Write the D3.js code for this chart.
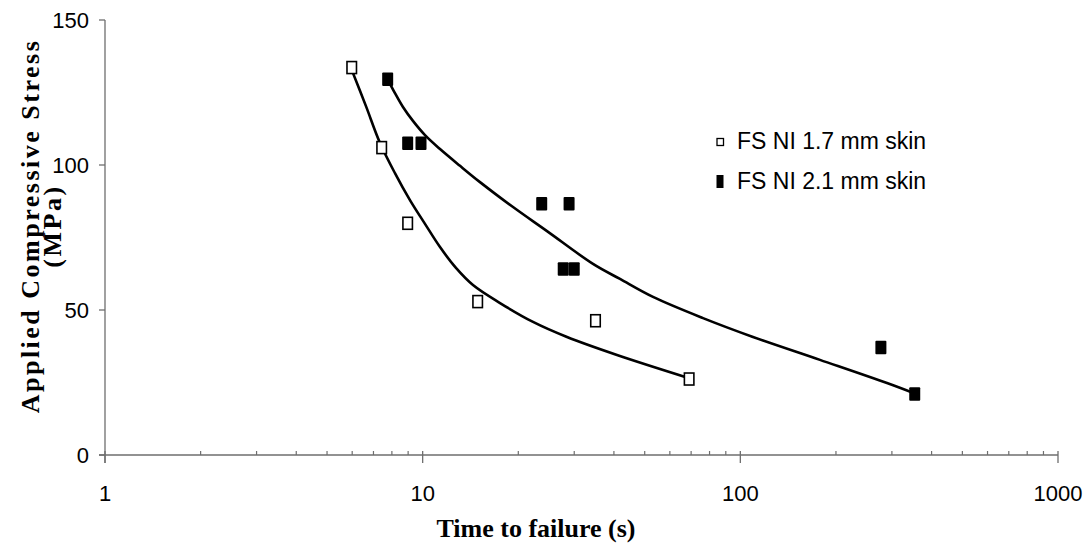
<!DOCTYPE html>
<html>
<head>
<meta charset="utf-8">
<script src="https://cdn.jsdelivr.net/npm/d3@7"></script>
<style>
  html, body { margin: 0; padding: 0; background: #fff; }
  svg { display: block; }
  .tick-label { font-family: "Liberation Sans", Arial, sans-serif; font-size: 22px; fill: #000; }
  .legend-label { font-family: "Liberation Sans", Arial, sans-serif; font-size: 23px; fill: #000; }
  .axis-title { font-family: "Liberation Serif", "Times New Roman", serif; font-weight: bold; font-size: 26px; fill: #000; }
</style>
</head>
<body>
<svg id="chart" width="1085" height="547"></svg>
<script>
// measured points
const thinTime = [5.98, 7.43, 8.97, 14.9, 35.0, 69.0];
const thinStress = [133.6, 106.0, 79.9, 52.9, 46.3, 26.2];
const thickTime = [7.76, 8.97, 9.88, 23.7, 28.9, 27.7, 30.0, 277, 354];
const thickStress = [129.6, 107.5, 107.5, 86.6, 86.6, 64.1, 64.1, 37.1, 21.0];

// trend curves as drawn
const thinFitTime = [5.95, 6.63, 7.34, 8.18, 9.12, 10.17, 11.34, 12.73, 14.40, 17.52, 22.25, 28.47, 40.9, 69.0];
const thinFitStress = [133.4, 120.3, 107.6, 97.2, 87.9, 79.7, 71.7, 64.5, 58.6, 52.4, 45.9, 40.7, 34.5, 26.5];
const thickFitTime = [7.78, 8.18, 8.67, 9.32, 10.17, 11.34, 13.11, 15.15, 19.25, 24.63, 34.37, 41.8, 53.1, 76.3, 109.6, 178.1, 289.5, 354];
const thickFitStress = [129.3, 124.8, 120.0, 115.2, 110.3, 105.5, 99.7, 94.1, 85.5, 77.2, 65.9, 60.7, 54.5, 47.2, 40.7, 32.8, 24.8, 21.2];

const xTicks = [1, 10, 100, 1000];
const yTicks = [0, 50, 100, 150];
const seriesNames = ["FS NI 1.7 mm skin", "FS NI 2.1 mm skin"];

const svg = d3.select("#chart");
const plotLeft = 105, plotRight = 1058, plotTop = 20, plotBottom = 455;

const x = d3.scaleLog().domain([1, 1000]).range([plotLeft, plotRight]);
const y = d3.scaleLinear().domain([0, 150]).range([plotBottom, plotTop]);

const axisColor = "#6e6e6e";

// y axis
svg.append("line")
    .attr("x1", plotLeft).attr("x2", plotLeft)
    .attr("y1", y(150)).attr("y2", y(0) + 8)
    .attr("stroke", axisColor).attr("stroke-width", 1.3);
yTicks.forEach(function (v) {
    svg.append("line")
        .attr("x1", plotLeft - 6).attr("x2", plotLeft)
        .attr("y1", y(v)).attr("y2", y(v))
        .attr("stroke", axisColor).attr("stroke-width", 1.3);
    svg.append("text")
        .attr("class", "tick-label")
        .attr("x", 89).attr("y", y(v))
        .attr("dy", "0.36em")
        .attr("text-anchor", "end")
        .text(v);
});

// x axis
svg.append("line")
    .attr("x1", plotLeft - 6).attr("x2", plotRight)
    .attr("y1", plotBottom).attr("y2", plotBottom)
    .attr("stroke", axisColor).attr("stroke-width", 1.3);
const minorTicks = [];
for (let d = 1; d < 1000; d *= 10) {
    for (let k = 2; k <= 9; k++) minorTicks.push(d * k);
}
svg.selectAll(".minor")
    .data(minorTicks)
    .enter().append("line")
    .attr("class", "minor")
    .attr("x1", d => x(d)).attr("x2", d => x(d))
    .attr("y1", plotBottom - 4).attr("y2", plotBottom)
    .attr("stroke", axisColor).attr("stroke-width", 1.2);
svg.selectAll(".major")
    .data(xTicks)
    .enter().append("line")
    .attr("class", "major")
    .attr("x1", d => x(d)).attr("x2", d => x(d))
    .attr("y1", plotBottom - 4).attr("y2", plotBottom + 8)
    .attr("stroke", axisColor).attr("stroke-width", 1.3);
svg.selectAll(".xlabel")
    .data(xTicks)
    .enter().append("text")
    .attr("class", "tick-label")
    .attr("x", d => x(d)).attr("y", 493)
    .attr("dy", "0.36em")
    .attr("text-anchor", "middle")
    .text(d => d);

// axis titles
svg.append("text")
    .attr("class", "axis-title")
    .attr("x", 536).attr("y", 528)
    .attr("dy", "0.36em")
    .attr("text-anchor", "middle")
    .text("Time to failure (s)");

const yTitle = svg.append("g").attr("transform", "translate(0,226) rotate(-90)");
yTitle.append("text")
    .attr("class", "axis-title")
    .attr("x", 0).attr("y", 39)
    .attr("text-anchor", "middle")
    .attr("letter-spacing", 2.5)
    .text("Applied Compressive Stress");
yTitle.append("text")
    .attr("class", "axis-title")
    .attr("x", 0).attr("y", 61)
    .attr("text-anchor", "middle")
    .attr("letter-spacing", 2.5)
    .text("(MPa)");

// trend curves
const line = d3.line()
    .x(d => x(d[0]))
    .y(d => y(d[1]))
    .curve(d3.curveCatmullRom.alpha(0.5));

[[thinFitTime, thinFitStress], [thickFitTime, thickFitStress]].forEach(function (s) {
    svg.append("path")
        .attr("d", line(d3.zip(s[0], s[1])))
        .attr("fill", "none")
        .attr("stroke", "#000")
        .attr("stroke-width", 2.6);
});

// markers
const mw = 9.5, mh = 12;
svg.selectAll(".thin")
    .data(d3.zip(thinTime, thinStress))
    .enter().append("rect")
    .attr("class", "thin")
    .attr("x", d => x(d[0]) - mw / 2)
    .attr("y", d => y(d[1]) - mh / 2)
    .attr("width", mw).attr("height", mh)
    .attr("fill", "#fff")
    .attr("stroke", "#000")
    .attr("stroke-width", 1.6);
svg.selectAll(".thick")
    .data(d3.zip(thickTime, thickStress))
    .enter().append("rect")
    .attr("class", "thick")
    .attr("x", d => x(d[0]) - (mw + 1.5) / 2)
    .attr("y", d => y(d[1]) - (mh + 1.5) / 2)
    .attr("width", mw + 1.5).attr("height", mh + 1.5)
    .attr("rx", 1)
    .attr("fill", "#000");

// legend
const legend = svg.append("g");
legend.append("rect")
    .attr("x", 717).attr("y", 138.5)
    .attr("width", 6.5).attr("height", 7)
    .attr("fill", "#fff").attr("stroke", "#000").attr("stroke-width", 1.3);
legend.append("rect")
    .attr("x", 716.5).attr("y", 175)
    .attr("width", 7).attr("height", 13)
    .attr("fill", "#000");
seriesNames.forEach(function (name, i) {
    legend.append("text")
        .attr("class", "legend-label")
        .attr("x", 737).attr("y", 149 + i * 40)
        .text(name);
});
</script>
</body>
</html>
